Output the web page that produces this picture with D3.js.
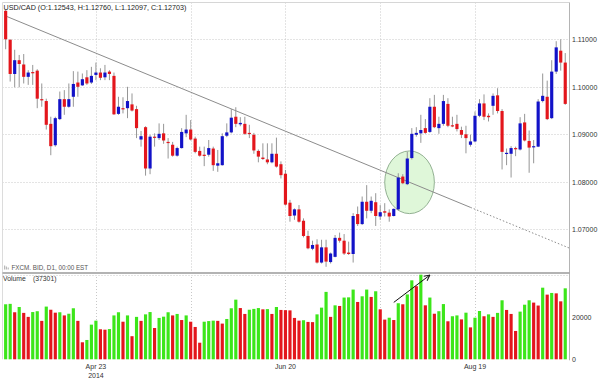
<!DOCTYPE html>
<html>
<head>
<meta charset="utf-8">
<script src="https://cdn.jsdelivr.net/npm/d3@7"></script>
<style>
  html, body { margin: 0; padding: 0; background: #fff; }
  svg { display: block; font-family: "Liberation Sans", Arial, sans-serif; }
</style>
</head>
<body>
<svg id="chart" width="600" height="380"></svg>
<script>
// ---------------- DATA ----------------
const symbolTitle = "USD/CAD (O:1.12543, H:1.12760, L:1.12097, C:1.12703)";
const sourceLabel = "FXCM. BID, D1, 00:00 EST";
const volumeLabel = "Volume";
const volumeValueLabel = "(37301)";
const firstTradingDay = "2014-03-26";   // daily (weekday) candles
const candleCount = 125;

const open = [1.1160,1.1099,1.1027,1.1056,1.1047,1.1021,1.1031,1.1034,1.0974,1.0970,
1.0922,1.0877,1.0932,1.0974,1.0958,1.0979,1.1009,1.1003,1.1020,1.1009,
1.1025,1.1030,1.1020,1.1032,1.1023,1.0943,1.0955,1.0955,1.0963,1.0953,
1.0889,1.0915,1.0828,1.0895,1.0892,1.0902,1.0884,1.0878,1.0855,1.0871,
1.0902,1.0910,1.0891,1.0865,1.0857,1.0857,1.0870,1.0834,1.0835,1.0897,
1.0904,1.0937,1.0921,1.0922,1.0903,1.0899,1.0865,1.0851,1.0847,1.0841,
1.0859,1.0837,1.0817,1.0756,1.0729,1.0742,1.0718,1.0686,1.0659,1.0668,
1.0630,1.0662,1.0631,1.0642,1.0682,1.0676,1.0651,1.0648,1.0732,1.0711,
1.0758,1.0739,1.0757,1.0727,1.0738,1.0735,1.0728,1.0742,1.0811,1.0795,
1.0850,1.0899,1.0902,1.0913,1.0905,1.0958,1.0913,1.0922,1.0964,1.0919,
1.0922,1.0909,1.0900,1.0878,1.0885,1.0939,1.0965,1.0939,1.0960,1.0982,
1.0949,1.0859,1.0859,1.0871,1.0868,1.0925,1.0886,1.0873,1.0874,1.0970,
1.0979,1.0934,1.1032,1.1076,1.1051];
const high = [1.1162,1.1100,1.1078,1.1067,1.1069,1.1035,1.1046,1.1037,1.1007,1.0975,
1.0937,1.0937,1.0990,1.0993,1.1007,1.1033,1.1032,1.1028,1.1035,1.1042,
1.1051,1.1039,1.1046,1.1035,1.1030,1.0979,1.0978,1.1000,1.0986,1.0960,
1.0907,1.0917,1.0899,1.0902,1.0923,1.0922,1.0892,1.0884,1.0874,1.0913,
1.0941,1.0930,1.0895,1.0874,1.0874,1.0888,1.0874,1.0867,1.0902,1.0923,
1.0953,1.0957,1.0936,1.0937,1.0920,1.0903,1.0868,1.0881,1.0881,1.0881,
1.0893,1.0843,1.0825,1.0762,1.0744,1.0751,1.0723,1.0697,1.0676,1.0679,
1.0678,1.0678,1.0651,1.0688,1.0693,1.0690,1.0674,1.0734,1.0748,1.0769,
1.0793,1.0769,1.0776,1.0751,1.0755,1.0742,1.0744,1.0818,1.0816,1.0863,
1.0913,1.0915,1.0941,1.0932,1.0976,1.0983,1.0937,1.0983,1.0976,1.0937,
1.0941,1.0916,1.0918,1.0899,1.0948,1.0974,1.0984,1.0944,1.0986,1.0997,
1.0953,1.0870,1.0875,1.0874,1.0936,1.0943,1.0908,1.0888,1.0974,1.1028,
1.1013,1.1056,1.1096,1.1100,1.1071];
const low = [1.1079,1.1011,1.0999,1.0999,1.1007,1.1004,1.1004,1.0955,1.0958,1.0910,
1.0856,1.0874,1.0930,1.0941,1.0956,1.0958,1.0979,1.1002,1.1004,1.1006,
1.1014,1.1014,1.1014,1.1014,1.0941,1.0941,1.0944,1.0934,1.0948,1.0892,
1.0874,1.0813,1.0816,1.0874,1.0888,1.0880,1.0849,1.0853,1.0853,1.0870,
1.0894,1.0887,1.0860,1.0853,1.0833,1.0853,1.0823,1.0821,1.0834,1.0894,
1.0902,1.0915,1.0917,1.0899,1.0892,1.0859,1.0841,1.0846,1.0837,1.0839,
1.0830,1.0807,1.0750,1.0716,1.0720,1.0714,1.0683,1.0658,1.0656,1.0628,
1.0628,1.0621,1.0628,1.0641,1.0672,1.0646,1.0646,1.0630,1.0707,1.0709,
1.0723,1.0734,1.0707,1.0720,1.0727,1.0716,1.0727,1.0739,1.0795,1.0793,
1.0847,1.0895,1.0882,1.0901,1.0903,1.0913,1.0901,1.0918,1.0915,1.0915,
1.0906,1.0892,1.0860,1.0874,1.0883,1.0936,1.0930,1.0927,1.0941,1.0944,
1.0826,1.0835,1.0809,1.0854,1.0866,1.0885,1.0819,1.0839,1.0873,1.0967,
1.0930,1.0932,1.1027,1.1034,1.0962];
const close = [1.1100,1.1027,1.1056,1.1048,1.1021,1.1030,1.1030,1.0975,1.0972,1.0920,
1.0875,1.0934,1.0974,1.0958,1.0974,1.1006,1.1000,1.1016,1.1007,1.1023,
1.1030,1.1019,1.1030,1.1027,1.0942,1.0958,1.0954,1.0970,1.0950,1.0913,
1.0896,1.0828,1.0895,1.0893,1.0901,1.0887,1.0882,1.0855,1.0871,1.0905,
1.0910,1.0889,1.0863,1.0855,1.0855,1.0871,1.0835,1.0839,1.0896,1.0904,
1.0935,1.0922,1.0924,1.0901,1.0902,1.0866,1.0853,1.0848,1.0841,1.0859,
1.0832,1.0814,1.0752,1.0728,1.0742,1.0716,1.0686,1.0660,1.0667,1.0630,
1.0662,1.0632,1.0649,1.0682,1.0676,1.0649,1.0648,1.0728,1.0711,1.0758,
1.0739,1.0760,1.0728,1.0736,1.0735,1.0727,1.0743,1.0809,1.0797,1.0849,
1.0901,1.0903,1.0909,1.0903,1.0958,1.0915,1.0922,1.0970,1.0918,1.0918,
1.0911,1.0899,1.0892,1.0885,1.0939,1.0965,1.0937,1.0936,1.0981,1.0949,
1.0863,1.0861,1.0871,1.0869,1.0923,1.0887,1.0872,1.0875,1.0969,1.0981,
1.0932,1.1032,1.1083,1.1051,1.0964];
const volume = [26200,26400,22400,24900,22100,20200,22500,22900,18300,25100,
23600,22200,22400,20900,21700,24300,18300,8100,9200,16500,
18400,14300,14100,14400,20900,22400,17900,20900,11000,20200,
18300,21400,22500,14900,19700,20300,22400,20900,21600,18700,
20900,17900,15400,7900,17900,18200,18400,18300,17000,19200,
24300,28400,24400,21600,23600,24000,24400,23800,23900,21600,
24900,23500,23400,23300,19700,18400,18600,17800,17700,21400,
24600,32100,20200,25700,25400,29400,29500,33200,27300,30000,
33200,29700,32400,23800,18900,19800,18700,26700,26200,30900,
37600,34800,40300,25700,29400,21700,22900,26300,18100,20500,
20900,19000,22200,15200,19800,23000,20500,21400,20200,22100,
28100,23500,21600,13500,22700,26000,28100,27000,25600,34100,
30800,31600,31400,27600,33800];

const priceTicks = [1.07, 1.08, 1.09, 1.10, 1.11];
const volumeTicks = [0, 20000];
const gridDates = ["2014-04-23", "2014-05-22", "2014-06-20", "2014-07-21", "2014-08-19"];
const labelDates = ["2014-04-23", "2014-06-20", "2014-08-19"];
const labelText = {"2014-04-23": "Apr 23", "2014-06-20": "Jun 20", "2014-08-19": "Aug 19"};
const yearLabel = {"2014-04-23": "2014"};
// trend line anchors (date, price) and where it turns dotted
const trendFrom = {date: "2014-03-26", price: 1.1149};
const trendTo   = {date: "2014-09-16", price: 1.0664};
const trendDottedFrom = "2014-08-18";
// highlighted breakout zone (ellipse) bounds
const zone = {from: "2014-07-22", to: "2014-08-06", priceTop: 1.0865, priceBottom: 1.0733};
// volume arrow (date, volume)
const arrowFrom = {date: "2014-07-24", vol: 27100};
const arrowTo   = {date: "2014-08-05", vol: 40100};

// ---------------- BUILD ----------------
const fmt = d3.timeFormat("%Y-%m-%d");
const dates = [];
{
  let d = d3.timeParse("%Y-%m-%d")(firstTradingDay);
  while (dates.length < candleCount) {
    const wd = d.getDay();
    if (wd !== 0 && wd !== 6) dates.push(fmt(d));
    d = d3.timeDay.offset(d, 1);
  }
}
const candles = dates.map((date, i) => ({date, o: open[i], h: high[i], l: low[i], c: close[i], v: volume[i], pv: i ? volume[i-1] : -1}));

const svg = d3.select("#chart");
const P = {left: 2.5, right: 569.5, top: 2.5, bottom: 272};
const V = {top: 275, bottom: 359.3};

const x = d3.scaleBand().domain(dates).range([3.4, 567.5]).paddingInner(0.3).paddingOuter(0.15);
const cx = d => x(d) + x.bandwidth() / 2;
const y = d3.scaleLinear().domain([1.07, 1.11]).range([229.3, 39.3]);
const yv = d3.scaleLinear().domain([0, 20000]).range([359.3, 317.3]);

const COL_UP = "#1212c8", COL_DN = "#e3161c", COL_VUP = "#3ce61a", COL_VDN = "#e3161c";
const GRID = "#c8c8c8";

// clip paths
const defs = svg.append("defs");
defs.append("clipPath").attr("id", "clipP").append("rect")
  .attr("x", P.left).attr("y", P.top).attr("width", P.right - P.left).attr("height", P.bottom - P.top);
defs.append("marker").attr("id", "arrowHead").attr("viewBox", "0 0 10 10")
  .attr("refX", 9).attr("refY", 5).attr("markerWidth", 7).attr("markerHeight", 7)
  .attr("orient", "auto")
  .append("path").attr("d", "M1,1 L9,5 L1,9").attr("fill", "none").attr("stroke", "#111").attr("stroke-width", 1.4);

// price gridlines
const gP = svg.append("g");
gP.selectAll("line.hg").data(priceTicks).join("line")
  .attr("x1", P.left).attr("x2", P.right)
  .attr("y1", d => Math.round(y(d)) + 0.5).attr("y2", d => Math.round(y(d)) + 0.5)
  .attr("stroke", GRID).attr("stroke-dasharray", "1,2");
gP.selectAll("line.vg").data(gridDates).join("line")
  .attr("x1", d => Math.round(cx(d)) + 0.5).attr("x2", d => Math.round(cx(d)) + 0.5)
  .attr("y1", P.top).attr("y2", P.bottom)
  .attr("stroke", GRID).attr("stroke-dasharray", "1,2");
// volume gridlines
gP.selectAll("line.vvg").data(gridDates).join("line")
  .attr("x1", d => Math.round(cx(d)) + 0.5).attr("x2", d => Math.round(cx(d)) + 0.5)
  .attr("y1", V.top + 2).attr("y2", V.bottom)
  .attr("stroke", GRID).attr("stroke-dasharray", "1,2");
gP.append("line").attr("x1", P.left).attr("x2", P.right).attr("y1", 275.5).attr("y2", 275.5)
  .attr("stroke", GRID).attr("stroke-dasharray", "1,2");

// frame
svg.append("line").attr("x1", P.left).attr("x2", P.left).attr("y1", P.top).attr("y2", V.bottom)
  .attr("stroke", "#dcdcdc");
svg.append("line").attr("x1", P.left).attr("x2", P.right).attr("y1", P.top).attr("y2", P.top)
  .attr("stroke", "#d6d6d6");
svg.append("line").attr("x1", P.right).attr("x2", P.right).attr("y1", P.top).attr("y2", V.bottom + 1)
  .attr("stroke", "#b4b4b4");
svg.append("line").attr("x1", P.left).attr("x2", P.right).attr("y1", 273).attr("y2", 273)
  .attr("stroke", "#9a9a9a").attr("stroke-width", 1.6);

// zone ellipse
const zx1 = cx(zone.from), zx2 = cx(zone.to);
svg.append("ellipse")
  .attr("cx", (zx1 + zx2) / 2).attr("cy", (y(zone.priceTop) + y(zone.priceBottom)) / 2)
  .attr("rx", (zx2 - zx1) / 2).attr("ry", (y(zone.priceBottom) - y(zone.priceTop)) / 2)
  .attr("fill", "#dff7d9").attr("stroke", "#88a888").attr("stroke-width", 0.9);

// trend line
const tx1 = cx(trendFrom.date), ty1 = y(trendFrom.price);
const tx2 = cx(trendTo.date), ty2 = y(trendTo.price);
const slope = (ty2 - ty1) / (tx2 - tx1);
const txs = cx(trendDottedFrom);
const gT = svg.append("g").attr("clip-path", "url(#clipP)");
gT.append("line").attr("x1", tx1).attr("y1", ty1).attr("x2", txs).attr("y2", ty1 + slope * (txs - tx1))
  .attr("stroke", "#8c8c8c").attr("stroke-width", 1);
gT.append("line").attr("x1", txs).attr("y1", ty1 + slope * (txs - tx1))
  .attr("x2", P.right).attr("y2", ty1 + slope * (P.right - tx1))
  .attr("stroke", "#8c8c8c").attr("stroke-width", 1).attr("stroke-dasharray", "1.5,2");

// candles
const gC = svg.append("g").attr("clip-path", "url(#clipP)");
const cg = gC.selectAll("g.c").data(candles).join("g");
cg.append("line")
  .attr("x1", d => cx(d.date)).attr("x2", d => cx(d.date))
  .attr("y1", d => y(d.h)).attr("y2", d => y(d.l))
  .attr("stroke", "#8a8a8a").attr("stroke-width", 0.9);
cg.append("rect")
  .attr("x", d => x(d.date)).attr("width", x.bandwidth())
  .attr("y", d => y(Math.max(d.o, d.c)))
  .attr("height", d => Math.max(1.2, Math.abs(y(d.o) - y(d.c))))
  .attr("fill", d => d.c > d.o ? COL_UP : COL_DN);

// volume bars
svg.append("g").selectAll("rect").data(candles).join("rect")
  .attr("x", d => x(d.date)).attr("width", x.bandwidth())
  .attr("y", d => yv(d.v)).attr("height", d => yv(0) - yv(d.v))
  .attr("fill", d => d.v > d.pv ? COL_VUP : COL_VDN);

// arrow
svg.append("line")
  .attr("x1", cx(arrowFrom.date)).attr("y1", yv(arrowFrom.vol))
  .attr("x2", cx(arrowTo.date)).attr("y2", yv(arrowTo.vol))
  .attr("stroke", "#111").attr("stroke-width", 1).attr("marker-end", "url(#arrowHead)");

// axes
const axP = d3.axisRight(y).tickValues(priceTicks).tickFormat(d3.format(".5f")).tickSize(0).tickPadding(2.5);
svg.append("g").attr("transform", `translate(${P.right},0)`).call(axP)
  .call(g => g.select(".domain").remove())
  .selectAll("text").attr("font-size", 7).attr("fill", "#333").attr("font-family", "Liberation Sans, Arial, sans-serif");
const axV = d3.axisRight(yv).tickValues(volumeTicks).tickFormat(d3.format("d")).tickSize(0).tickPadding(2.5);
svg.append("g").attr("transform", `translate(${P.right},0)`).call(axV)
  .call(g => g.select(".domain").remove())
  .selectAll("text").attr("font-size", 7).attr("fill", "#333").attr("font-family", "Liberation Sans, Arial, sans-serif");
const axX = d3.axisBottom(x).tickValues(labelDates).tickFormat(d => labelText[d]).tickSize(0).tickPadding(5);
const gx = svg.append("g").attr("transform", `translate(0,${V.bottom})`).call(axX);
gx.select(".domain").remove();
gx.selectAll("text").attr("font-size", 7).attr("fill", "#333").attr("font-family", "Liberation Sans, Arial, sans-serif");
gx.selectAll(".tick").filter(d => yearLabel[d]).append("text")
  .attr("y", 13.6).attr("dy", "0.71em").attr("text-anchor", "middle")
  .attr("font-size", 7).attr("fill", "#333").text(d => yearLabel[d]);

// texts
svg.append("text").attr("x", 3.5).attr("y", 10).attr("font-size", 7.2).attr("fill", "#222").text(symbolTitle);
svg.append("text").attr("x", 11.5).attr("y", 269.5).attr("font-size", 6.3).attr("fill", "#555").text(sourceLabel);
const ic = svg.append("g").attr("fill", "#b9b9b9");
ic.append("rect").attr("x", 4).attr("y", 265.5).attr("width", 1.2).attr("height", 4);
ic.append("rect").attr("x", 5.8).attr("y", 266.5).attr("width", 1.2).attr("height", 3);
ic.append("rect").attr("x", 7.6).attr("y", 267.5).attr("width", 1.2).attr("height", 2);
svg.append("text").attr("x", 3).attr("y", 280.5).attr("font-size", 6.8).attr("fill", "#333").text(volumeLabel);
svg.append("text").attr("x", 33).attr("y", 280.5).attr("font-size", 6.8).attr("fill", "#333").text(volumeValueLabel);
</script>
</body>
</html>
